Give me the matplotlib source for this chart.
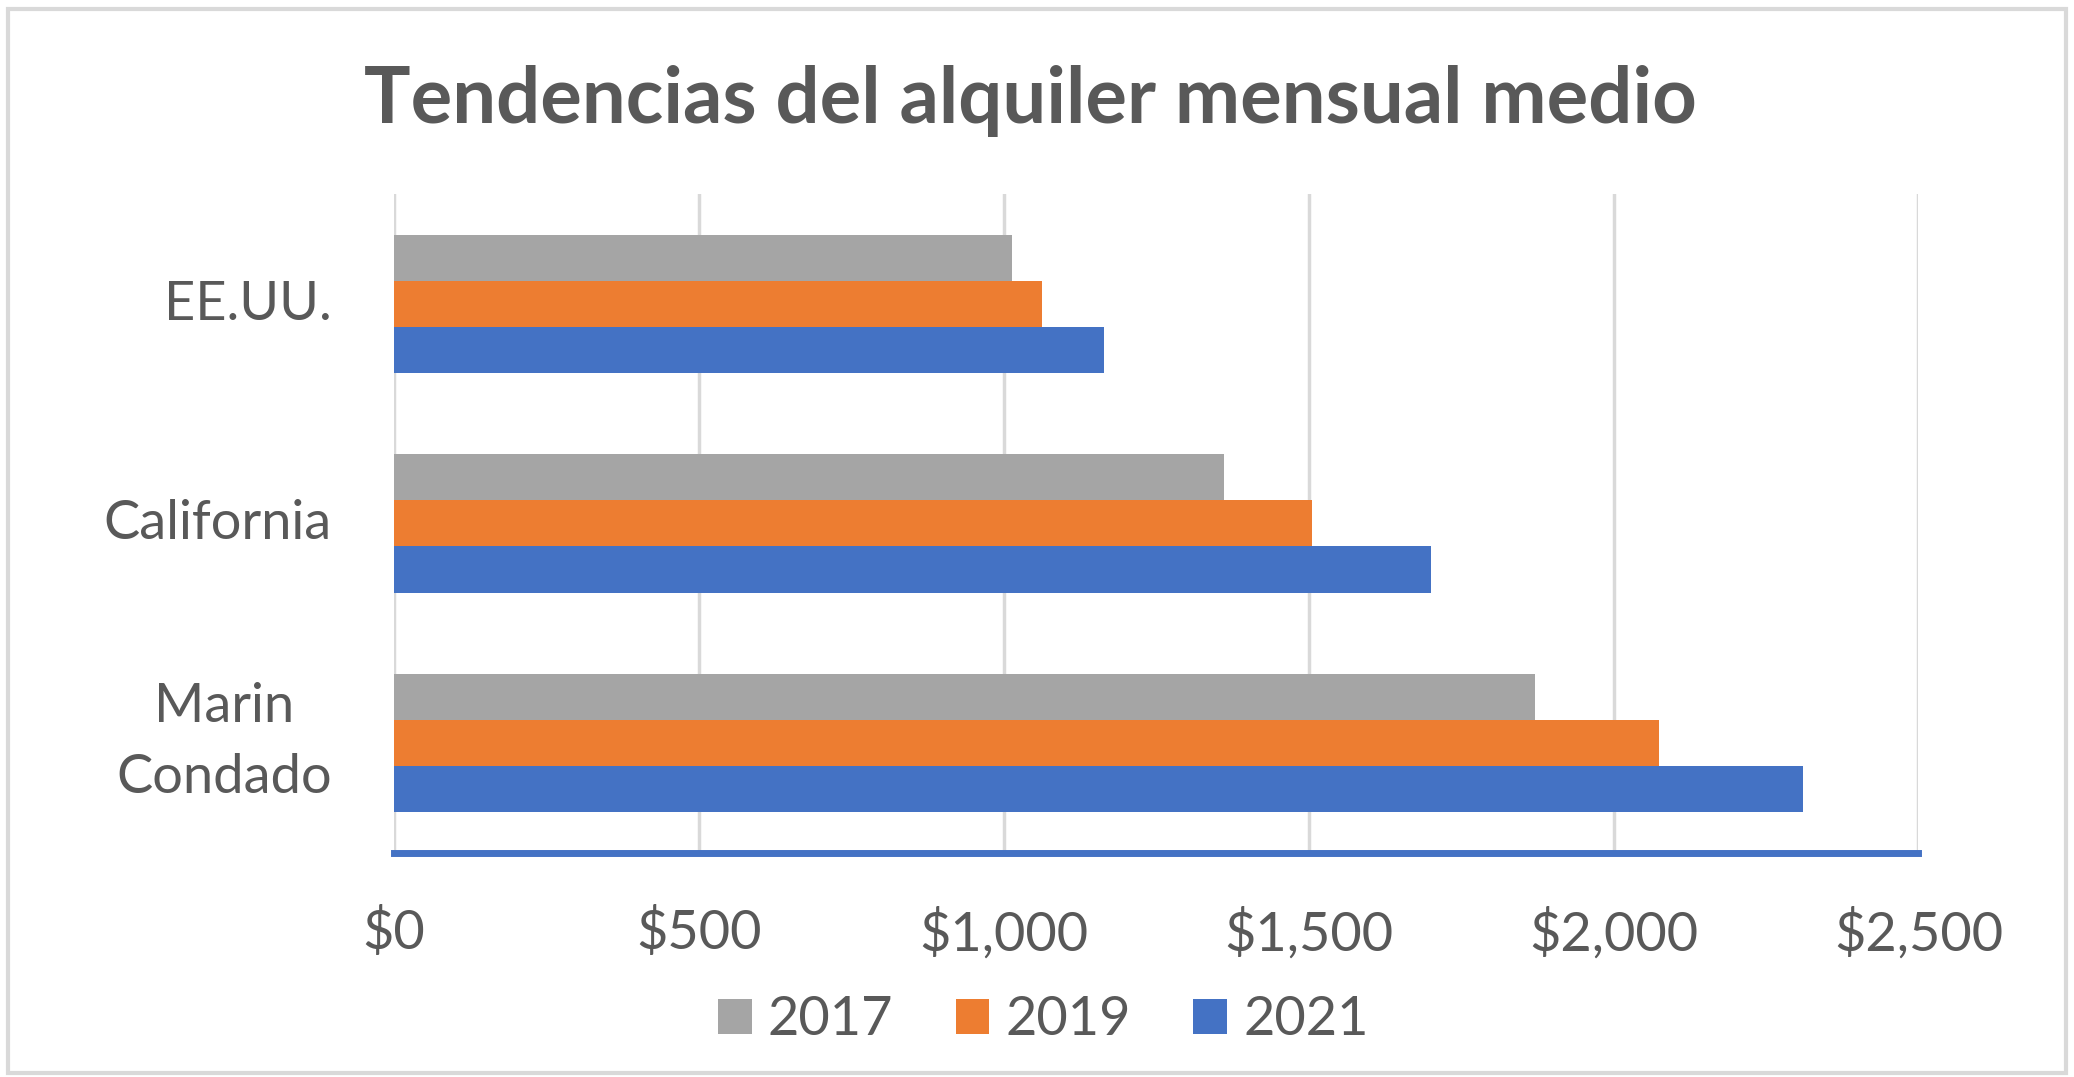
import matplotlib
matplotlib.use("Agg")
import matplotlib.pyplot as plt
import matplotlib.transforms as mtransforms
import numpy as np
from matplotlib.patches import Rectangle
from matplotlib.ticker import FuncFormatter

categories = ["Marin\nCondado", "California", "EE.UU."]
years = ["2017", "2019", "2021"]
rent_2017 = [1871, 1361, 1013]
rent_2019 = [2075, 1506, 1063]
rent_2021 = [2311, 1701, 1165]
colors = ["#A5A5A5", "#ED7D31", "#4472C4"]
title = "Tendencias del alquiler mensual medio"

plt.rcParams['font.family'] = ['Lato', 'DejaVu Sans']
text_color = "#595959"

fig = plt.figure(figsize=(20.74, 10.77), dpi=100)
ax = fig.add_axes([0.190, 0.208, 0.735, 0.612])

y = np.arange(len(categories))
h = 0.21
series = [rent_2017, rent_2019, rent_2021]
offsets = [h, 0, -h]
for vals, off, col, yr in zip(series, offsets, colors, years):
    ax.barh(y + off, vals, height=h, color=col, label=yr, zorder=3)

ax.set_xlim(0, 2500)
ax.set_ylim(-0.5, 2.5)
ax.set_xticks(np.arange(0, 2501, 500))
ax.xaxis.set_major_formatter(FuncFormatter(lambda v, p: "${:,.0f}".format(v)))
ax.set_yticks(y)
ax.set_yticklabels(categories, multialignment='center', linespacing=1.55)
ax.tick_params(axis='both', length=0, labelsize=39, labelcolor=text_color)
ax.tick_params(axis='x', pad=39)
ax.tick_params(axis='y', pad=45)
ax.grid(axis='x', color="#D9D9D9", linewidth=2.5, zorder=0)
for s in ['top', 'right', 'left']:
    ax.spines[s].set_visible(False)
ax.spines['bottom'].set_color("#4472C4")
ax.spines['bottom'].set_linewidth(5)
ax.spines['bottom'].set_zorder(4)

# small vertical nudges of the category labels
for lbl, dy in zip(ax.get_yticklabels(), [12, 3, 3]):
    lbl.set_transform(lbl.get_transform() +
                      mtransforms.ScaledTranslation(0, dy / 72, fig.dpi_scale_trans))

fig.text(0.497, 0.906, title, ha='center', va='center', fontsize=56,
         fontweight='bold', color=text_color)

handles, labels = ax.get_legend_handles_labels()
leg = fig.legend(handles, labels, loc='center', bbox_to_anchor=(0.503, 0.053),
                 ncol=3, frameon=False, fontsize=39, handlelength=0.62,
                 handleheight=0.62, handletextpad=0.3, columnspacing=1.15)
for t in leg.get_texts():
    t.set_color(text_color)

fig.patches.append(Rectangle((0.004, 0.004), 0.992, 0.988, transform=fig.transFigure,
                             fill=False, edgecolor="#D9D9D9", linewidth=3))

fig.savefig("out.png", dpi=100, facecolor="white")
